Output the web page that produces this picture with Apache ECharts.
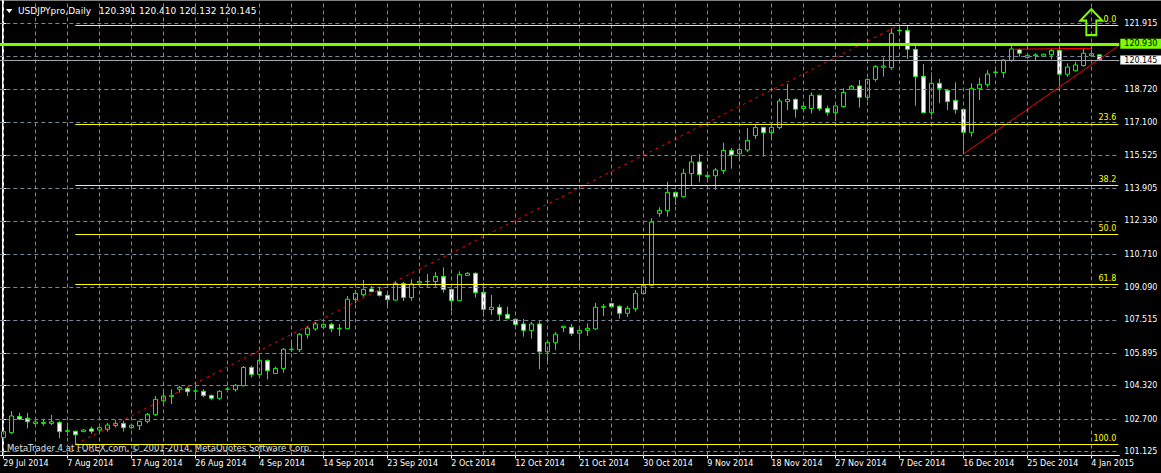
<!DOCTYPE html>
<html><head><meta charset="utf-8">
<script src="https://cdn.jsdelivr.net/npm/echarts@6/dist/echarts.min.js"></script>
<style>html,body{margin:0;padding:0;background:#000;}#c{width:1161px;height:473px;}</style>
</head><body><div id="c"></div>
<script>
// ---- data ----
const categories = [
'29 Jul 2014','30 Jul 2014','31 Jul 2014',
'1 Aug 2014','3 Aug 2014','4 Aug 2014','5 Aug 2014','6 Aug 2014','7 Aug 2014','8 Aug 2014','10 Aug 2014','11 Aug 2014','12 Aug 2014','13 Aug 2014','14 Aug 2014','15 Aug 2014','17 Aug 2014','18 Aug 2014','19 Aug 2014','20 Aug 2014','21 Aug 2014','22 Aug 2014','24 Aug 2014','25 Aug 2014','26 Aug 2014','27 Aug 2014','28 Aug 2014','29 Aug 2014','31 Aug 2014',
'1 Sep 2014','2 Sep 2014','3 Sep 2014','4 Sep 2014','5 Sep 2014','7 Sep 2014','8 Sep 2014','9 Sep 2014','10 Sep 2014','11 Sep 2014','12 Sep 2014','14 Sep 2014','15 Sep 2014','16 Sep 2014','17 Sep 2014','18 Sep 2014','19 Sep 2014','21 Sep 2014','22 Sep 2014','23 Sep 2014','24 Sep 2014','25 Sep 2014','26 Sep 2014','28 Sep 2014','29 Sep 2014','30 Sep 2014',
'1 Oct 2014','2 Oct 2014','3 Oct 2014','5 Oct 2014','6 Oct 2014','7 Oct 2014','8 Oct 2014','9 Oct 2014','10 Oct 2014','12 Oct 2014','13 Oct 2014','14 Oct 2014','15 Oct 2014','16 Oct 2014','17 Oct 2014','19 Oct 2014','20 Oct 2014','21 Oct 2014','22 Oct 2014','23 Oct 2014','24 Oct 2014','26 Oct 2014','27 Oct 2014','28 Oct 2014','29 Oct 2014','30 Oct 2014','31 Oct 2014',
'2 Nov 2014','3 Nov 2014','4 Nov 2014','5 Nov 2014','6 Nov 2014','7 Nov 2014','9 Nov 2014','10 Nov 2014','11 Nov 2014','12 Nov 2014','13 Nov 2014','14 Nov 2014','16 Nov 2014','17 Nov 2014','18 Nov 2014','19 Nov 2014','20 Nov 2014','21 Nov 2014','23 Nov 2014','24 Nov 2014','25 Nov 2014','26 Nov 2014','27 Nov 2014','28 Nov 2014','30 Nov 2014',
'1 Dec 2014','2 Dec 2014','3 Dec 2014','4 Dec 2014','5 Dec 2014','7 Dec 2014','8 Dec 2014','9 Dec 2014','10 Dec 2014','11 Dec 2014','12 Dec 2014','14 Dec 2014','15 Dec 2014','16 Dec 2014','17 Dec 2014','18 Dec 2014','19 Dec 2014','21 Dec 2014','22 Dec 2014','23 Dec 2014','24 Dec 2014','25 Dec 2014','26 Dec 2014','28 Dec 2014','29 Dec 2014','30 Dec 2014','31 Dec 2014',
'1 Jan 2015','2 Jan 2015','4 Jan 2015','5 Jan 2015'
];
// two empty slots keep the right-hand chart shift of the terminal
const shiftSlots = ['', ' '];

const opens = [
101.80,102.04,102.83,102.74,102.48,102.49,102.49,102.53,102.13,102.11,
102.09,102.22,102.17,102.20,102.38,102.49,102.28,102.38,102.59,102.91,
103.59,103.79,104.15,104.19,104.07,104.05,103.85,103.71,104.15,104.13,
104.32,105.21,104.87,105.55,104.91,105.16,106.07,106.07,106.80,107.08,
107.16,107.30,107.08,107.09,108.50,108.74,109.02,108.91,108.71,108.48,
109.29,108.60,109.31,109.38,109.38,109.63,109.00,108.45,109.68,109.78,
108.86,108.02,108.13,107.79,107.55,107.32,107.01,107.32,105.97,106.41,
107.14,107.16,106.87,107.01,107.08,108.13,108.31,108.18,107.84,108.06,
108.79,109.20,112.69,112.82,113.71,113.50,114.62,115.19,114.48,114.52,
114.77,115.75,115.59,115.77,116.47,116.87,116.61,116.86,118.12,118.23,
117.79,117.79,118.43,117.79,117.58,117.88,118.72,118.88,118.33,119.20,
119.79,119.77,121.57,121.58,120.66,119.35,117.58,119.01,118.67,118.18,
117.745,116.63,118.75,118.94,119.53,119.53,120.13,120.64,120.27,120.35,
120.32,120.40,120.61,119.45,119.62,119.87,120.35,120.391
];
const closes = [
102.09,102.85,102.70,102.57,102.56,102.54,102.57,102.09,102.11,101.94,
102.17,102.11,102.28,102.41,102.49,102.28,102.40,102.59,102.93,103.66,
103.82,103.85,104.24,104.03,104.06,103.84,103.71,104.05,104.16,104.34,
105.21,104.87,105.55,105.05,105.16,106.09,106.10,106.82,107.12,107.32,
107.30,107.09,107.11,108.52,108.81,109.00,108.89,108.71,108.50,109.29,
108.60,109.26,109.38,109.39,109.63,109.00,108.45,109.73,109.78,108.84,
108.03,108.13,107.79,107.59,107.30,107.01,107.32,105.97,106.43,106.82,
107.21,106.85,107.01,107.11,108.13,108.16,108.16,107.84,108.08,108.81,
109.20,112.27,112.84,113.71,113.50,114.64,115.19,114.57,114.54,114.80,
115.75,115.53,115.80,116.24,116.86,116.61,116.87,118.15,118.23,117.75,
117.89,118.43,117.78,117.60,117.91,118.57,118.86,118.33,119.20,119.82,
119.85,121.44,121.58,120.66,119.33,117.58,119.01,118.77,118.12,117.73,
116.63,118.765,118.96,119.46,119.56,120.14,120.68,120.47,120.37,120.39,
120.42,120.61,119.45,119.80,119.90,120.47,120.45,120.145
];
const highs = [
102.15,103.09,103.00,103.00,102.69,102.72,102.90,102.62,102.53,102.14,
102.20,102.33,102.38,102.51,102.66,102.62,102.46,102.62,103.00,103.82,
104.02,104.15,104.31,104.27,104.31,104.15,103.89,104.11,104.27,104.40,
105.28,105.29,105.70,105.59,105.25,106.15,106.43,106.88,107.22,107.42,
107.35,107.38,107.32,108.68,108.97,109.46,109.16,109.13,108.87,109.42,
109.36,109.49,109.52,109.75,109.84,110.07,109.04,109.88,109.84,109.83,
109.33,108.73,108.27,108.16,107.58,107.56,107.42,107.46,106.46,106.93,
107.22,107.32,107.14,107.35,108.34,108.29,108.35,108.23,108.19,108.97,
109.49,112.45,112.99,114.22,113.75,114.86,115.51,115.58,114.56,114.90,
116.13,115.87,115.88,116.84,117.03,116.90,117.07,118.28,118.98,118.28,
117.96,118.57,118.46,117.92,118.04,118.77,118.93,119.17,119.25,119.90,
120.26,121.68,121.80,121.84,120.87,119.95,119.54,119.22,118.73,119.06,
117.78,119.01,119.28,119.66,119.79,120.17,120.84,120.71,120.43,120.47,
120.45,120.68,120.66,119.98,120.06,120.74,120.63,120.410
];
const lows = [
101.75,101.98,102.66,102.25,102.43,102.37,102.41,101.77,101.88,101.47,
102.07,101.99,102.09,102.09,102.30,102.09,102.23,102.17,102.49,102.85,
103.50,103.43,103.98,103.82,103.63,103.76,103.63,103.63,104.02,104.03,
104.29,104.71,104.71,104.63,104.89,104.95,105.96,105.96,106.61,106.98,
107.12,106.93,106.74,107.08,108.32,108.65,108.86,108.65,108.23,108.45,
108.44,108.45,109.13,109.13,109.13,108.84,107.95,108.44,109.67,108.60,
107.68,107.76,107.48,107.56,107.09,106.70,106.61,105.13,105.36,106.06,
106.93,106.74,106.20,106.74,107.03,107.71,108.13,107.58,107.67,107.92,
108.78,109.16,112.53,112.53,113.10,113.46,114.05,114.22,114.31,113.83,
114.61,114.86,115.25,115.67,116.31,115.45,116.31,116.77,117.71,117.34,
117.75,117.54,117.67,117.44,117.18,117.83,118.70,117.83,118.17,119.09,
119.33,119.66,121.47,120.19,117.92,117.57,117.47,118.04,117.71,117.53,
115.575,116.42,118.20,118.81,119.33,119.28,120.05,120.30,120.21,120.11,
120.30,120.17,118.85,119.33,119.58,119.82,120.30,120.132
];

const yTickLabels = [121.915,118.720,117.100,115.525,113.905,112.330,110.710,109.090,107.515,105.895,104.320,102.700,101.125];
const yGridLines  = [121.915,120.320,118.720,117.100,115.525,113.905,112.330,110.710,109.090,107.515,105.895,104.320,102.700,101.125];
const yRange = [100.931, 123.0565];

const fiboLow  = [9, 101.474];     // bar index, price
const fiboHigh = [112, 121.842];
const fiboLevels = [0.0, 23.6, 38.2, 50.0, 61.8, 100.0];
const trendLine  = [[120, 115.575], [139.375, 120.824]];
const resistLine = [[126, 120.662], [136, 120.710]];
const markedLevel = 120.930;
const bidLevel = 120.145;
const arrowPoint = [136, 121.98];
const symbolTitle = 'USDJPYpro,Daily';
const copyright = 'MetaTrader 4 at FOREX.com, \u00a9 2001-2014, MetaQuotes Software Corp.';

// ---- chart ----
const FONT = '"DejaVu Sans", Verdana, sans-serif';
const LIME = '#7cfc00';
const allCats = categories.concat(shiftSlots);
const N = allCats.length;
const xEnd = N - 0.625;          // just at the price axis line
const candleData = categories.map((c, i) => [opens[i], closes[i], lows[i], highs[i]]);
const last = categories.length - 1;
const headerOHLC = [opens[last], highs[last], lows[last], closes[last]].map(v => v.toFixed(3)).join(' ');

const gridLineData = yGridLines.map(v => ({ yAxis: v }));
for (let i = 0; i < categories.length; i += 4) gridLineData.push({ xAxis: i });

const fiboSpan = fiboHigh[1] - fiboLow[1];
const fiboLines = fiboLevels.map(l => {
  const p = fiboHigh[1] - l / 100 * fiboSpan;
  return [
    { coord: [fiboLow[0], p], label: { formatter: l.toFixed(1) } },
    { coord: [xEnd, p] }
  ];
});

const chart = echarts.init(document.getElementById('c'), null, { renderer: 'svg' });
chart.setOption({
  backgroundColor: '#000000',
  animation: false,
  textStyle: { fontFamily: FONT },
  grid: { left: -0.7, top: 0, width: N * 8, height: 455.5, outerBoundsMode: 'none', containLabel: false },
  xAxis: [
    {
      type: 'category', data: allCats, boundaryGap: true,
      axisLine: { lineStyle: { color: '#ffffff', width: 1 } },
      axisTick: { show: true, alignWithLabel: true, interval: 7, length: 3, lineStyle: { color: '#ffffff' } },
      axisLabel: { interval: 7, align: 'left', color: '#ffffff', fontSize: 8, fontFamily: FONT, margin: 4 },
      splitLine: { show: false }
    },
    { type: 'value', min: -0.5, max: N - 0.5, show: false }
  ],
  yAxis: [
    {
      type: 'value', position: 'right', offset: -1, min: yRange[0], max: yRange[1], scale: true,
      axisLine: { show: true, lineStyle: { color: '#ffffff', width: 1 } },
      axisTick: { show: true, length: 3, customValues: yTickLabels, lineStyle: { color: '#ffffff' } },
      axisLabel: { show: true, customValues: yTickLabels, color: '#ffffff', fontSize: 8, fontFamily: FONT, margin: 6,
                   formatter: v => Number(v).toFixed(3) },
      splitLine: { show: false }
    },
    {
      type: 'value', position: 'left', offset: -2.7, min: yRange[0], max: yRange[1],
      axisLine: { show: true, lineStyle: { color: '#ffffff', width: 1 } },
      axisTick: { show: false }, axisLabel: { show: false }, splitLine: { show: false }
    }
  ],
  series: [
    {
      name: 'grid', type: 'line', xAxisIndex: 1, yAxisIndex: 0, data: [], z: 1, silent: true,
      markLine: { silent: true, symbol: ['none', 'none'], label: { show: false },
        lineStyle: { color: '#778899', type: [4, 3], width: 1 }, data: gridLineData, animation: false }
    },
    {
      name: 'USDJPYpro', type: 'candlestick', xAxisIndex: 0, yAxisIndex: 0, data: candleData, z: 3,
      barWidth: 4,
      itemStyle: { color: '#000000', color0: '#ffffff', borderColor: '#00ff00', borderColor0: '#00ff00', borderWidth: 1 }
    },
    {
      name: 'levels', type: 'line', xAxisIndex: 1, yAxisIndex: 0, data: [], z: 2, silent: true,
      markLine: { silent: true, symbol: ['none', 'none'], animation: false,
        label: { show: true, position: 'insideEndTop', distance: [2, 2], color: '#ffff00', fontSize: 8, fontFamily: FONT },
        lineStyle: { color: '#ffff00', type: 'solid', width: 1 },
        data: fiboLines }
    },
    {
      name: 'fibo', type: 'line', xAxisIndex: 1, yAxisIndex: 0, z: 4, silent: true, symbol: 'none',
      data: [fiboLow, fiboHigh],
      lineStyle: { color: '#ff0000', width: 1, type: [3, 4] }
    },
    {
      name: 'trend', type: 'line', xAxisIndex: 1, yAxisIndex: 0, z: 4, silent: true, symbol: 'none',
      data: trendLine, lineStyle: { color: '#ff0000', width: 1 }
    },
    {
      name: 'resist', type: 'line', xAxisIndex: 1, yAxisIndex: 0, z: 4, silent: true, symbol: 'none',
      data: resistLine, lineStyle: { color: '#ff0000', width: 1 }
    },
    {
      name: 'price', type: 'line', xAxisIndex: 1, yAxisIndex: 0, data: [], z: 5, silent: true,
      markLine: { silent: true, symbol: ['none', 'none'], animation: false,
        data: [
          { yAxis: markedLevel, lineStyle: { color: LIME, width: 3, type: 'solid' },
            label: { show: true, position: 'end', distance: 1, formatter: markedLevel.toFixed(3),
                     backgroundColor: LIME, color: '#000000', padding: [1, 4, 1, 4], fontSize: 8, lineHeight: 8, fontFamily: FONT } },
          { yAxis: bidLevel, lineStyle: { color: '#a0a8b0', width: 1, type: 'solid' },
            label: { show: true, position: 'end', distance: 1, formatter: bidLevel.toFixed(3),
                     backgroundColor: '#ffffff', color: '#000000', padding: [1, 4, 0, 4], fontSize: 8, lineHeight: 8, fontFamily: FONT } }
        ] },
      markPoint: { silent: true, animation: false, label: { show: false },
        data: [{ coord: arrowPoint, symbol: 'path://M11,0 L22,11.5 L16,11.5 L16,26 L6,26 L6,11.5 L0,11.5 Z',
                 symbolSize: [22, 26], itemStyle: { color: 'rgba(0,0,0,0)', borderColor: LIME, borderWidth: 2 } }] }
    }
  ],
  graphic: [
    { type: 'line', shape: { x1: 0, y1: 0.5, x2: 1161, y2: 0.5 }, style: { stroke: '#808080', lineWidth: 1 }, silent: true },
    { type: 'polygon', shape: { points: [[6, 9], [12.5, 9], [9.25, 13]] }, style: { fill: '#ffffff' }, silent: true },
    { type: 'text', x: 18, y: 11, silent: true,
      style: { text: symbolTitle, fill: '#ffffff', font: '9px ' + FONT, verticalAlign: 'middle' } },
    { type: 'text', x: 99, y: 11, silent: true,
      style: { text: headerOHLC, fill: '#ffffff', font: '9px ' + FONT, verticalAlign: 'middle' } },
    { type: 'text', x: 7, y: 448, silent: true,
      style: { text: copyright, fill: '#e0e0e0', font: '8.5px ' + FONT, verticalAlign: 'middle' } }
  ]
});
</script></body></html>
